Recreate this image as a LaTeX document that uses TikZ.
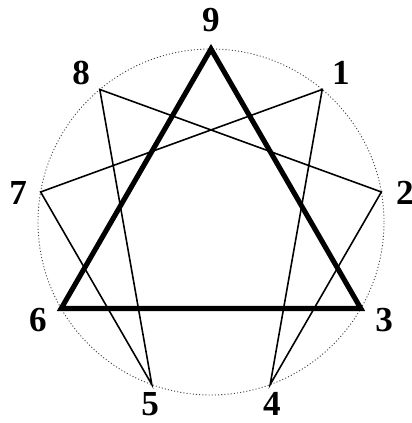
\documentclass[tikz,border=0pt]{standalone}
\usepackage{fontspec}
\setmainfont{Liberation Serif}
\usepackage{tikz}

\begin{document}
\begin{tikzpicture}
\useasboundingbox (-4.220,-4.020) rectangle (4.020,4.440);
\tikzset{hexad/.style={line width=0.9pt, line join=miter},
  triad/.style={line width=2.9pt, line join=miter},
  digit/.style={font=\fontsize{20}{20}\selectfont\bfseries, inner sep=0pt}}
\draw[black!75, line width=0.5pt, dash pattern=on 0.6pt off 1.2pt] (0,0) circle (3.460);
\coordinate (p9) at (90:3.460);
\coordinate (p1) at (50:3.460);
\coordinate (p2) at (10:3.460);
\coordinate (p3) at (-30:3.460);
\coordinate (p4) at (-70:3.460);
\coordinate (p5) at (-110:3.460);
\coordinate (p6) at (-150:3.460);
\coordinate (p7) at (170:3.460);
\coordinate (p8) at (130:3.460);
\draw[hexad] (p1) -- (p4) -- (p2) -- (p8) -- (p5) -- (p7) -- cycle;
\draw[triad] (p9) -- (p6) -- (p3) -- cycle;
\node[digit] (n9) at (90:4.040) {9};
\node[digit] (n1) at (49:3.960) {1};
\node[digit] (n2) at (8.5:3.920) {2};
\node[digit] (n3) at (-29.5:3.980) {3};
\node[digit] (n4) at (-71.5:3.840) {4};
\node[digit] (n5) at (-108.5:3.840) {5};
\node[digit] (n6) at (-150.5:3.980) {6};
\node[digit] (n7) at (171.5:3.900) {7};
\node[digit] (n8) at (131:3.960) {8};
\end{tikzpicture}
\end{document}
